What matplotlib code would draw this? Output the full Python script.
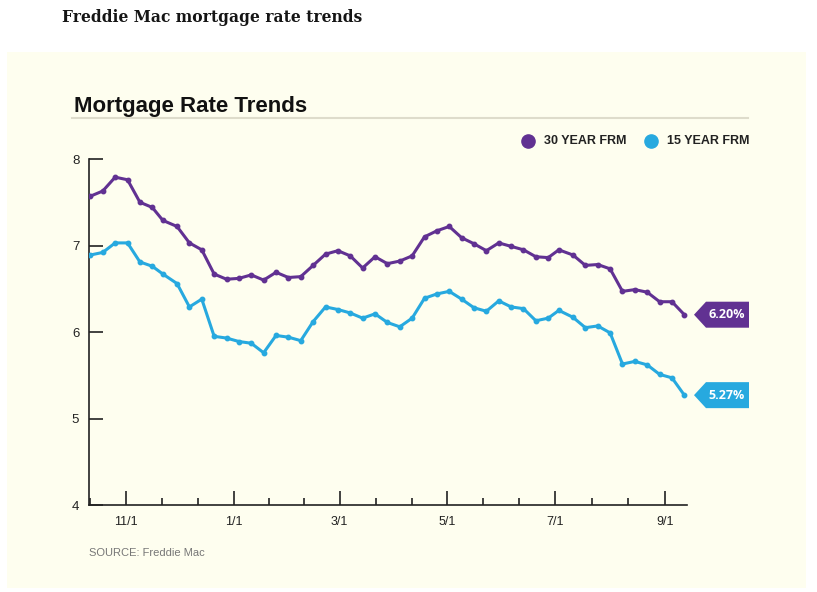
import matplotlib
matplotlib.use("Agg")
import matplotlib.pyplot as plt
import matplotlib.dates as mdates
from matplotlib.patches import Rectangle, Polygon
import matplotlib.transforms as mtransforms
import datetime as dt

# ---- data (weekly Freddie Mac PMMS) ----
dates = ["2023-10-12", "2023-10-19", "2023-10-26", "2023-11-02", "2023-11-09", "2023-11-16",
         "2023-11-22", "2023-11-30", "2023-12-07", "2023-12-14", "2023-12-21", "2023-12-28",
         "2024-01-04", "2024-01-11", "2024-01-18", "2024-01-25", "2024-02-01", "2024-02-08",
         "2024-02-15", "2024-02-22", "2024-02-29", "2024-03-07", "2024-03-14", "2024-03-21",
         "2024-03-28", "2024-04-04", "2024-04-11", "2024-04-18", "2024-04-25", "2024-05-02",
         "2024-05-09", "2024-05-16", "2024-05-23", "2024-05-30", "2024-06-06", "2024-06-13",
         "2024-06-20", "2024-06-27", "2024-07-03", "2024-07-11", "2024-07-18", "2024-07-25",
         "2024-08-01", "2024-08-08", "2024-08-15", "2024-08-22", "2024-08-29", "2024-09-05",
         "2024-09-12"]
frm30 = [7.57, 7.63, 7.79, 7.76, 7.50, 7.44, 7.29, 7.22, 7.03, 6.95, 6.67, 6.61,
         6.62, 6.66, 6.60, 6.69, 6.63, 6.64, 6.77, 6.90, 6.94, 6.88, 6.74, 6.87,
         6.79, 6.82, 6.88, 7.10, 7.17, 7.22, 7.09, 7.02, 6.94, 7.03, 6.99, 6.95,
         6.87, 6.86, 6.95, 6.89, 6.77, 6.78, 6.73, 6.47, 6.49, 6.46, 6.35, 6.35,
         6.20]
frm15 = [6.89, 6.92, 7.03, 7.03, 6.81, 6.76, 6.67, 6.56, 6.29, 6.38, 5.95, 5.93,
         5.89, 5.87, 5.76, 5.96, 5.94, 5.90, 6.12, 6.29, 6.26, 6.22, 6.16, 6.21,
         6.11, 6.06, 6.16, 6.39, 6.44, 6.47, 6.38, 6.28, 6.24, 6.36, 6.29, 6.27,
         6.13, 6.16, 6.25, 6.17, 6.05, 6.07, 5.99, 5.63, 5.66, 5.62, 5.51, 5.47,
         5.27]
major_ticks = ["2023-11-01", "2024-01-01", "2024-03-01", "2024-05-01", "2024-07-01", "2024-09-01"]
major_labels = ["11/1", "1/1", "3/1", "5/1", "7/1", "9/1"]
yticks = [4, 5, 6, 7, 8]
series_names = ["30 YEAR FRM", "15 YEAR FRM"]
end_labels = ["6.20%", "5.27%"]

PURPLE = "#613192"
CYAN = "#27A9DF"
PANEL = "#FEFEEF"

def d(s):
    return mdates.date2num(dt.datetime.strptime(s, "%Y-%m-%d"))

x = [d(s) for s in dates]
majors = [d(s) for s in major_ticks]
step = (majors[1] - majors[0]) / 3.0
minors = [majors[0] - step]
for a, b in zip(majors[:-1], majors[1:]):
    minors += [a + (b - a) / 3.0, a + 2 * (b - a) / 3.0]

W, H = 817, 592
fig = plt.figure(figsize=(W / 100, H / 100), dpi=100)
fig.patch.set_facecolor("white")

# cream panel
panel = Rectangle((7 / W, 1 - 588 / H), (806 - 7) / W, (588 - 52) / H,
                  transform=fig.transFigure, facecolor=PANEL, edgecolor="none", zorder=-10)
fig.add_artist(panel)

fig.text(62 / W, 1 - 17 / H, "Freddie Mac mortgage rate trends", family="DejaVu Serif",
         weight="bold", fontsize=11.2, color="#151515", va="center", ha="left")
fig.text(74 / W, 1 - 112 / H, "Mortgage Rate Trends", family="Liberation Sans",
         weight="bold", fontsize=16, color="#111111", va="baseline", ha="left")
fig.add_artist(plt.Line2D([72 / W, 748 / W], [1 - 117.5 / H, 1 - 117.5 / H],
                          transform=fig.transFigure, color="#DEDCCB", lw=1.5))

# legend
for cx, tx, col, name in [(528, 544, PURPLE, series_names[0]), (651, 667, CYAN, series_names[1])]:
    fig.add_artist(plt.Line2D([cx / W], [1 - 141 / H], marker="o", markersize=9.5,
                              color=col, transform=fig.transFigure, lw=0))
    fig.text(tx / W, 1 - 141 / H, name, family="Liberation Sans", weight="bold",
             fontsize=9, color="#222222", va="center", ha="left")

fig.text(89 / W, 1 - 553 / H, "SOURCE: Freddie Mac", family="Liberation Sans",
         fontsize=8, color="#777777", va="center", ha="left")

ax = fig.add_axes([89 / W, 1 - 505 / H, (687 - 89) / W, (505 - 159) / H])
ax.set_facecolor("none")
ax.set_zorder(2)
ax.plot(x, frm30, color=PURPLE, lw=2.2, marker="o", markersize=3.2, zorder=3)
ax.plot(x, frm15, color=CYAN, lw=2.2, marker="o", markersize=3.2, zorder=3)

ax.set_ylim(4, 8)
ax.set_xlim(x[0] - 0.8, x[-1] + 1.5)
ax.set_yticks(yticks)
ax.set_yticklabels([str(v) for v in yticks], family="Liberation Sans", fontsize=9.5, color="#222222")
ax.set_xticks(majors)
ax.set_xticklabels(major_labels, family="Liberation Sans", fontsize=9, color="#222222")
ax.set_xticks(minors, minor=True)
ax.tick_params(axis="y", direction="in", length=10, width=1.2, color="#222222", pad=7)
ax.tick_params(axis="x", which="major", direction="in", length=10, width=1.2, color="#222222", pad=8)
ax.tick_params(axis="x", which="minor", direction="in", length=5, width=1.2, color="#222222")
for s in ["top", "right"]:
    ax.spines[s].set_visible(False)
for s in ["left", "bottom"]:
    ax.spines[s].set_color("#222222")
    ax.spines[s].set_linewidth(1.2)

# end flags
trans = mtransforms.blended_transform_factory(ax.transAxes, ax.transData)
wpx = (687 - 89)
hh = 13 / 86.5
x0 = (694 - 89) / wpx
x1 = (706 - 89) / wpx
x2 = (749 - 89) / wpx
for val, lab, col in [(frm30[-1], end_labels[0], PURPLE), (frm15[-1], end_labels[1], CYAN)]:
    poly = Polygon([(x0, val), (x1, val + hh), (x2, val + hh), (x2, val - hh), (x1, val - hh)],
                   closed=True, transform=trans, facecolor=col, edgecolor="none", clip_on=False)
    ax.add_patch(poly)
    ax.text((x1 + x2) / 2 - 0.002, val, lab, transform=trans, color="white", family="Open Sans",
            weight="bold", fontsize=9, ha="center", va="center", clip_on=False)

fig.savefig("out.png", dpi=100, facecolor="white")
